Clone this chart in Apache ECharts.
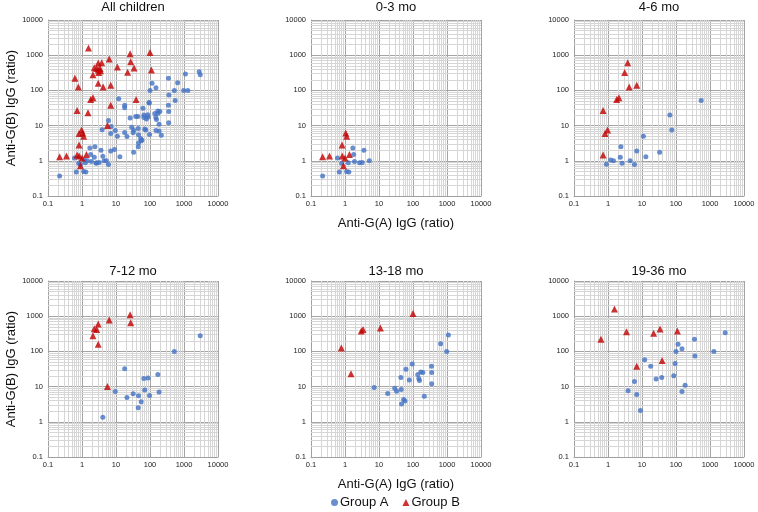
<!DOCTYPE html>
<html>
<head>
<meta charset="utf-8">
<script src="https://cdn.jsdelivr.net/npm/echarts@6/dist/echarts.min.js"></script>
<style>
  html, body {margin: 0; padding: 0; background: #fff;}
  #main {width: 758px; height: 512px;}
</style>
</head>
<body>
<div id="main"></div>
<script>
// values, [anti-G(A), anti-G(B)]
const groupA_0_3 = [[0.22, 0.37], [0.6, 1.2], [0.68, 0.48], [0.8, 0.85], [1.12, 0.5], [1.3, 0.48], [1.25, 0.88],
  [1.7, 2.3], [1.8, 1.5], [1.9, 0.95], [2.7, 0.88], [3.2, 0.9], [3.6, 2.0], [5.2, 1.0]];
const groupB_0_3 = [[0.22, 1.3], [0.35, 1.38], [0.82, 2.8], [0.83, 1.38], [1.0, 1.2], [0.9, 0.72], [1.05, 6.2],
  [1.12, 5.0], [1.35, 1.5]];

const groupA_4_6 = [[550, 52], [66, 20], [75, 7.5], [11, 5], [33, 1.75], [13, 1.3], [7, 1.9], [2.4, 2.5], [2.3, 1.27],
  [1.2, 1.05], [1.45, 1.0], [0.9, 0.8], [2.6, 0.85], [4.5, 1.0], [6, 0.78]];
const groupB_4_6 = [[3.8, 610], [3.1, 320], [4.2, 125], [7, 140], [2.1, 62], [1.8, 55], [0.72, 27], [0.97, 7.5],
  [0.82, 6], [0.72, 1.45]];

const groupA_7_12 = [[3000, 280], [520, 100], [18, 32], [170, 22], [88, 17.5], [66, 17], [70, 8], [185, 7], [9.5, 7.2],
  [32, 6.3], [46, 5.5], [97, 5.6], [21, 4.9], [55, 3.7], [45, 2.5], [4.1, 1.35]];
const groupB_7_12 = [[26, 1100], [27, 650], [6.3, 780], [3.0, 600], [2.3, 440], [2.7, 420], [2.1, 280], [3.0, 160],
  [5.6, 10]];

const groupA_13_18 = [[1100, 290], [650, 165], [980, 100], [95, 44], [62, 31], [350, 38], [355, 25], [355, 12],
  [138, 22], [170, 26], [195, 25], [148, 17], [155, 15], [78, 15.5], [44, 18], [7.2, 9.5], [29, 9], [45, 8.3],
  [33, 7.4], [18, 6.4], [53, 4.3], [58, 3.9], [46, 3.2], [215, 5.3]];
const groupB_13_18 = [[100, 1200], [11, 460], [3.4, 420], [3.0, 380], [0.78, 125], [1.5, 23]];

const groupA_19_36 = [[2800, 340], [1300, 100], [350, 220], [360, 74], [115, 160], [150, 118], [100, 100], [94, 45],
  [12, 58], [18, 38], [38, 18], [26, 16.5], [86, 20.5], [185, 11], [150, 7.2], [6, 14], [3.9, 7.6], [7, 6], [9, 2.1]];
const groupB_19_36 = [[1.55, 1600], [0.62, 220], [3.5, 360], [22, 330], [34, 430], [110, 380], [39, 55], [7, 38]];

const panelTitles = ['All children', '0-3 mo', '4-6 mo', '7-12 mo', '13-18 mo', '19-36 mo'];

// all children = every age group together
const allA = [].concat(groupA_0_3, groupA_4_6, groupA_7_12, groupA_13_18, groupA_19_36);
const allB = [].concat(groupB_0_3, groupB_4_6, groupB_7_12, groupB_13_18, groupB_19_36);
const panelA = [allA, groupA_0_3, groupA_4_6, groupA_7_12, groupA_13_18, groupA_19_36];
const panelB = [allB, groupB_0_3, groupB_4_6, groupB_7_12, groupB_13_18, groupB_19_36];

const blue = '#4472C4';
const red = '#C00000';
const lefts = [48, 311, 574];
const tops = [20, 281];
const plotW = 170;
const plotH = 176;

// minor grid lines 2..9 in every decade
let minorVals = [];
for (let e = -1; e < 4; e++) {
  for (let m = 2; m < 10; m++) {
    minorVals.push(+(m * Math.pow(10, e)).toPrecision(4));
  }
}

function fmt(v) {
  return String(+Number(v).toPrecision(6));
}

let grids = [], xAxes = [], yAxes = [], titles = [], series = [];
for (let i = 0; i < 6; i++) {
  let col = i % 3, row = Math.floor(i / 3);
  grids.push({left: lefts[col], top: tops[row], width: plotW, height: plotH});
  titles.push({
    text: panelTitles[i],
    left: lefts[col] + plotW / 2,
    top: row == 0 ? 1 : 265,
    padding: 0,
    textAlign: 'center',
    textStyle: {fontFamily: 'Liberation Sans', fontSize: 13, fontWeight: 'normal', color: '#111'}
  });
  xAxes.push({
    gridIndex: i,
    type: 'log',
    logBase: 10,
    min: 0.1,
    max: 10000,
    splitNumber: 5,
    name: col == 1 ? 'Anti-G(A) IgG (ratio)' : '',
    nameLocation: 'middle',
    nameGap: 21,
    nameTextStyle: {fontFamily: 'Liberation Sans', fontSize: 13, color: '#111'},
    axisLine: {lineStyle: {color: '#A0A0A0'}},
    axisTick: {show: false},
    axisLabel: {fontFamily: 'Liberation Sans', fontSize: 7.5, color: '#222', margin: 4, formatter: fmt,
      showMinLabel: true, showMaxLabel: true},
    splitLine: {show: true, lineStyle: {color: '#A4A4A4', width: 1}}
  });
  yAxes.push({
    gridIndex: i,
    type: 'log',
    logBase: 10,
    min: 0.1,
    max: 10000,
    splitNumber: 5,
    name: col == 0 ? 'Anti-G(B) IgG (ratio)' : '',
    nameLocation: 'middle',
    nameGap: 26,
    nameTextStyle: {fontFamily: 'Liberation Sans', fontSize: 13, color: '#111'},
    axisLine: {lineStyle: {color: '#A0A0A0'}},
    axisTick: {show: false},
    axisLabel: {fontFamily: 'Liberation Sans', fontSize: 7.5, color: '#222', margin: 5, formatter: fmt},
    splitLine: {show: true, lineStyle: {color: '#A4A4A4', width: 1}}
  });
  // empty series only to carry the minor grid lines
  let lines = [];
  minorVals.forEach(v => {
    lines.push({xAxis: v});
    lines.push({yAxis: v});
  });
  series.push({
    type: 'scatter',
    xAxisIndex: i,
    yAxisIndex: i,
    data: [],
    silent: true,
    z: 1,
    markLine: {
      silent: true,
      z: 1,
      symbol: ['none', 'none'],
      label: {show: false},
      lineStyle: {color: '#D6D6D6', width: 1, type: 'solid'},
      emphasis: {disabled: true},
      animation: false,
      data: lines
    }
  });
  series.push({
    name: 'Group A',
    type: 'scatter',
    xAxisIndex: i,
    yAxisIndex: i,
    symbol: 'circle',
    symbolSize: 5,
    itemStyle: {color: blue},
    z: 3,
    data: panelA[i]
  });
  series.push({
    name: 'Group B',
    type: 'scatter',
    xAxisIndex: i,
    yAxisIndex: i,
    symbol: 'triangle',
    symbolSize: 7,
    itemStyle: {color: red},
    z: 4,
    data: panelB[i]
  });
}

let chart = echarts.init(document.getElementById('main'), null, {renderer: 'canvas'});
let option = {
  animation: false,
  backgroundColor: '#fff',
  title: titles,
  grid: grids,
  xAxis: xAxes,
  yAxis: yAxes,
  legend: {
    data: [{name: 'Group A', icon: 'circle'}, {name: 'Group B', icon: 'triangle'}],
    left: 326,
    top: 491,
    itemWidth: 7,
    itemHeight: 7,
    itemGap: 14,
    textStyle: {fontFamily: 'Liberation Sans', fontSize: 13, color: '#111', padding: [0, 0, 0, -3]}
  },
  series: series
};
chart.setOption(option);
</script>
</body>
</html>
